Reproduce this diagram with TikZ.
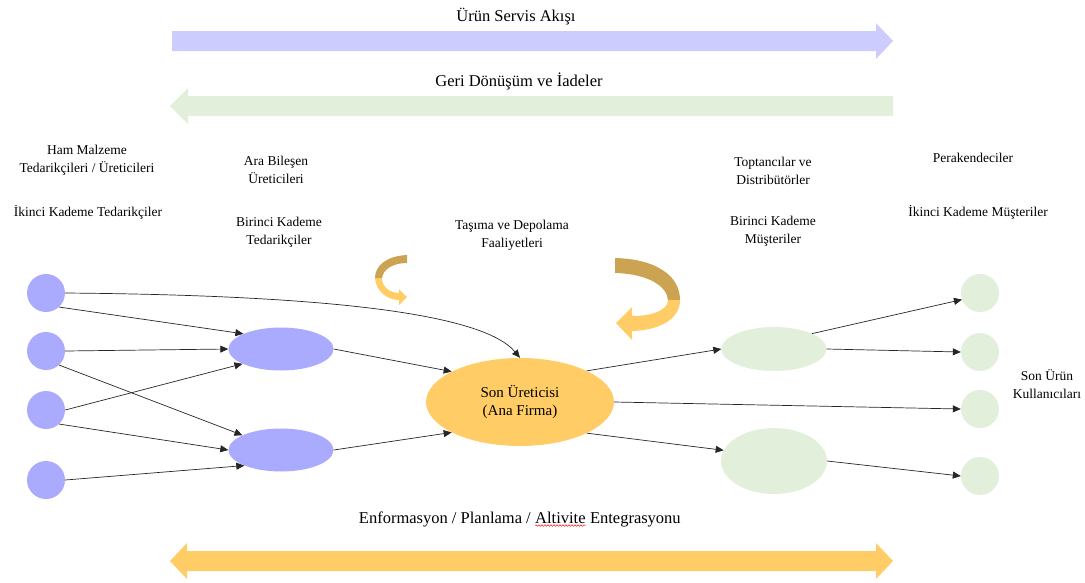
\documentclass[tikz,border=0pt]{standalone}
\usepackage{fontspec}
\setmainfont{Liberation Serif}
\usetikzlibrary{shapes.geometric,arrows.meta,decorations.pathmorphing}

\definecolor{lavnode}{HTML}{AAAAFF}
\definecolor{lavbar}{HTML}{CCCCFF}
\definecolor{mint}{HTML}{E2EFDA}
\definecolor{sun}{HTML}{FFCC66}
\definecolor{goldshade}{HTML}{CCA352}

\tikzset{
  supplier/.style={circle, fill=lavnode, minimum size=38pt, inner sep=0pt},
  tierone/.style={ellipse, fill=lavnode, minimum width=105pt, minimum height=43pt, inner sep=0pt},
  maker/.style={ellipse, fill=sun, minimum width=188pt, minimum height=88pt, inner sep=0pt,
                align=center, font=\fontsize{15}{18}\selectfont},
  whole/.style={ellipse, fill=mint, inner sep=0pt},
  buyer/.style={circle, fill=mint, minimum size=38pt, inner sep=0pt},
  caption/.style={align=center, inner sep=0pt, font=\fontsize{13.5}{18}\selectfont},
  headline/.style={inner sep=0pt, font=\fontsize{16.5}{19}\selectfont},
  link/.style={line width=0.7pt, draw=black!85, -{Triangle[length=8pt,width=7pt]}},
}

\begin{document}
\begin{tikzpicture}[x=1pt,y=-1pt]
\useasboundingbox (0,0) rectangle (1085,582);

% --- wide block arrows ---
\fill[lavbar] (172,31) -- (876,31) -- (876,23) -- (893,41) -- (876,59) -- (876,51) -- (172,51) -- cycle;
\fill[mint] (893,96) -- (188,96) -- (188,88) -- (170,106) -- (188,124) -- (188,116) -- (893,116) -- cycle;
\fill[sun] (187,551) -- (876,551) -- (876,543) -- (893,561) -- (876,579) -- (876,571)
  -- (187,571) -- (187,579) -- (170,561) -- (187,543) -- cycle;

\node[headline] (flow) at (516,17) {Ürün Servis Akışı};
\node[headline] (returns) at (519,81) {Geri Dönüşüm ve İadeler};

\node[headline, anchor=base west] (spell) at (535,523) {Altivite};
\node[headline, anchor=base east] (info) at ([xshift=-4pt]spell.base west) {Enformasyon / Planlama /};
\node[headline, anchor=base west] (integ) at ([xshift=4pt]spell.base east) {Entegrasyonu};
\draw[red, line width=0.45pt, decorate, decoration={snake, amplitude=0.8pt, segment length=3pt}]
  ([yshift=-2.5pt]spell.base west) -- ([yshift=-2.5pt]spell.base east);

% --- curved arrows around transport ---
\fill[goldshade] (407,255) .. controls (386,256) and (375,266) .. (375,278)
  -- (382,278) .. controls (383,270) and (392,263) .. (407,263) -- cycle;
\fill[sun] (375,278) .. controls (376,292) and (388,300) .. (399,300)
  -- (399,305) -- (407,297) -- (399,289) -- (399,293)
  .. controls (390,293) and (382,287) .. (382,278) -- cycle;

\fill[goldshade] (615,258) .. controls (655,259) and (680,275) .. (680,300)
  -- (668,300) .. controls (667,287) and (650,274) .. (615,273) -- cycle;
\fill[sun] (680,300) .. controls (680,318) and (662,330) .. (632,331)
  -- (632,340) -- (616,323) -- (632,307) -- (632,316)
  .. controls (655,316) and (668,309) .. (668,300) -- cycle;

% --- captions ---
\node[caption] (raw) at (87,160) {Ham Malzeme\\Tedarikçileri / Üreticileri};
\node[caption] (tiertwo) at (88,212) {İkinci Kademe Tedarikçiler};
\node[caption] (parts) at (276,170) {Ara Bileşen\\Üreticileri};
\node[caption] (tieronecap) at (279,232) {Birinci Kademe\\Tedarikçiler};
\node[caption] (logistics) at (512,235) {Taşıma ve Depolama\\Faaliyetleri};
\node[caption] (wholesale) at (773,171) {Toptancılar ve\\Distribütörler};
\node[caption] (custone) at (773,231) {Birinci Kademe\\Müşteriler};
\node[caption] (retail) at (973,158) {Perakendeciler};
\node[caption] (custtwo) at (978,212) {İkinci Kademe Müşteriler};
\node[caption] (users) at (1047,384) {Son Ürün\\Kullanıcıları};

% --- network nodes ---
\node[supplier] (s1) at (46,293) {};
\node[supplier] (s2) at (46,351) {};
\node[supplier] (s3) at (46,410) {};
\node[supplier] (s4) at (46,480) {};
\node[tierone] (t1) at (281,349) {};
\node[tierone] (t2) at (281,450) {};
\node[maker] (core) at (520,402) {Son Üreticisi\\(Ana Firma)};
\node[whole, minimum width=105pt, minimum height=44pt] (w1) at (774,349) {};
\node[whole, minimum width=106pt, minimum height=66pt] (w2) at (774,461) {};
\node[buyer] (r1) at (980,293) {};
\node[buyer] (r2) at (980,352) {};
\node[buyer] (r3) at (980,409) {};
\node[buyer] (r4) at (980,476) {};

% --- connectors ---
\draw[link] (s1.east) .. controls (300,295) and (480,310) .. (core.north);
\draw[link] (s1.-47) -- (t1.158);
\draw[link] (s2.east) -- (t1.west);
\draw[link] (s2.-47) -- (t2.159);
\draw[link] (s3.east) -- (t1.201);
\draw[link] (s3.-47) -- (t2.west);
\draw[link] (s4.east) -- (t2.203);
\draw[link] (t1.east) -- (core.156);
\draw[link] (t2.east) -- (core.204);
\draw[link] (core.25) -- (w1.west);
\draw[link] (core.east) -- (r3.west);
\draw[link] (core.-25) -- (w2.168);
\draw[link] (w1.22) -- (r1.200);
\draw[link] (w1.east) -- (r2.west);
\draw[link] (w2.east) -- (r4.west);
\end{tikzpicture}
\end{document}
